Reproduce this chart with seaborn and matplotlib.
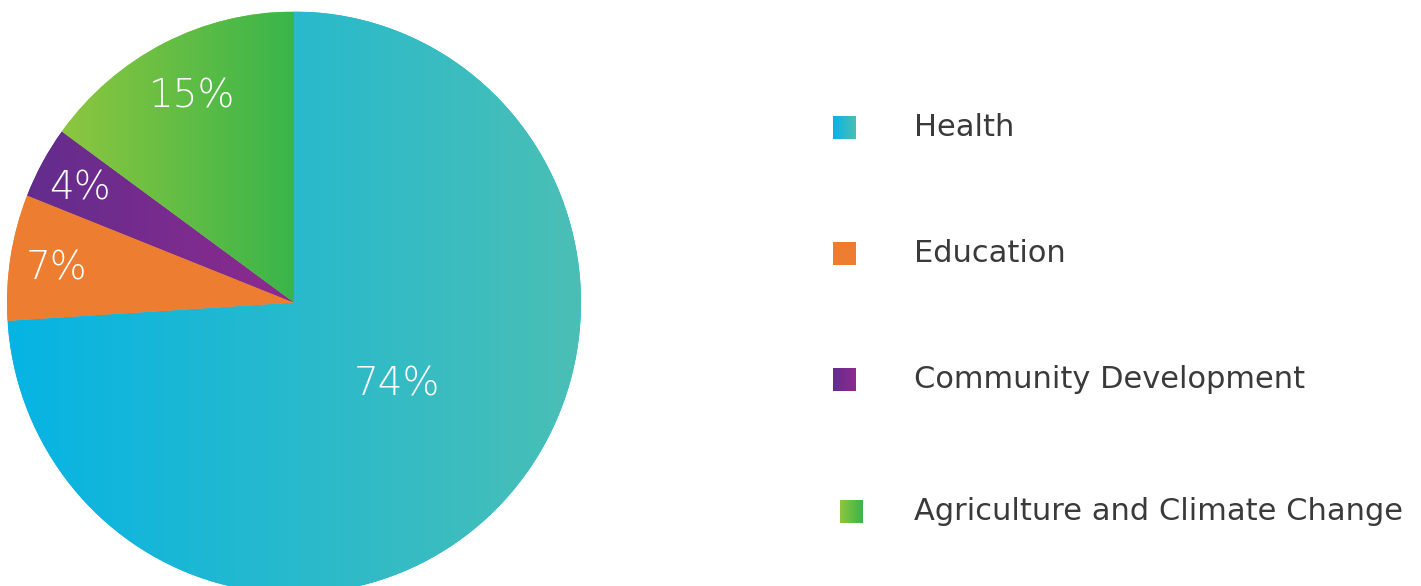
import numpy as np
import seaborn as sns
from matplotlib import pyplot as plt
from matplotlib.colors import LinearSegmentedColormap

CATEGORIES = ['Health', 'Education', 'Community Development', 'Agriculture and Climate Change']
SHARES = [74, 7, 4, 15]
LABELS = ['74%', '7%', '4%', '15%']
# left -> right gradient stops for every slice
GRADIENTS = [
    ('#05b4e4', '#4bbfb5'),
    ('#ed7d31', '#ed7d31'),
    ('#622d8d', '#8e2a8f'),
    ('#8dc63f', '#39b54a'),
]
LABEL_POS = [(397, 201), (57, 318), (80, 398), (192, 489)]  # pixel centres (y from bottom)

W, H = 1421, 586

sns.set_theme(style='white')
plt.rcParams['font.family'] = ['DejaVu Sans']

fig = plt.figure(figsize=(W / 100, H / 100), dpi=100)

# pie axes: the original pie is a touch taller than wide and runs off the bottom
pie_l, pie_w = 7, 574
pie_cy, pie_ry = 302.6, 291
pax = fig.add_axes([pie_l / W, (H - pie_cy - pie_ry) / H, pie_w / W, 2 * pie_ry / H])
wedges, _ = pax.pie(SHARES, startangle=90, counterclock=False, radius=1,
                    colors=[g[0] for g in GRADIENTS],
                    wedgeprops=dict(linewidth=0))
pax.set_xlim(-1, 1)
pax.set_ylim(-1, 1)
pax.set_aspect('auto')
pax.axis('off')


def gradient_fill(ax, patch, c0, c1):
    bb = patch.get_path().get_extents(patch.get_transform() - ax.transData)
    cmap = LinearSegmentedColormap.from_list('g', [c0, c1])
    grad = np.linspace(0, 1, 256).reshape(1, -1)
    im = ax.imshow(grad, cmap=cmap, aspect='auto', interpolation='bilinear',
                   extent=(bb.x0, bb.x1, bb.y0, bb.y1), origin='lower', zorder=2)
    im.set_clip_path(patch)


for w, (c0, c1) in zip(wedges, GRADIENTS):
    gradient_fill(pax, w, c0, c1)
pax.set_xlim(-1, 1)
pax.set_ylim(-1, 1)

# overlay axes in pixel units for labels and the legend
ax = fig.add_axes([0, 0, 1, 1])
ax.set_xlim(0, W)
ax.set_ylim(0, H)
ax.axis('off')

for txt, (x, y) in zip(LABELS, LABEL_POS):
    ax.text(x, y, txt, color='white', fontsize=28, fontweight='light',
            ha='center', va='center', zorder=5)

# legend drawn by hand so the swatches can carry the gradients
legend_y = [458.5, 332, 206.5, 74]
legend_x = [833, 833, 833, 840]
cmap_grad = np.linspace(0, 1, 64).reshape(1, -1)
for name, (c0, c1), y, x in zip(CATEGORIES, GRADIENTS, legend_y, legend_x):
    cmap = LinearSegmentedColormap.from_list('s', [c0, c1])
    ax.imshow(cmap_grad, cmap=cmap, aspect='auto',
              extent=(x, x + 23, y - 11.5, y + 11.5), origin='lower', zorder=3)
    ax.text(914, y, name, color='#3a3a3a', fontsize=22,
            ha='left', va='center')

ax.set_xlim(0, W)
ax.set_ylim(0, H)
fig.savefig('out.png', dpi=100, facecolor='white')
